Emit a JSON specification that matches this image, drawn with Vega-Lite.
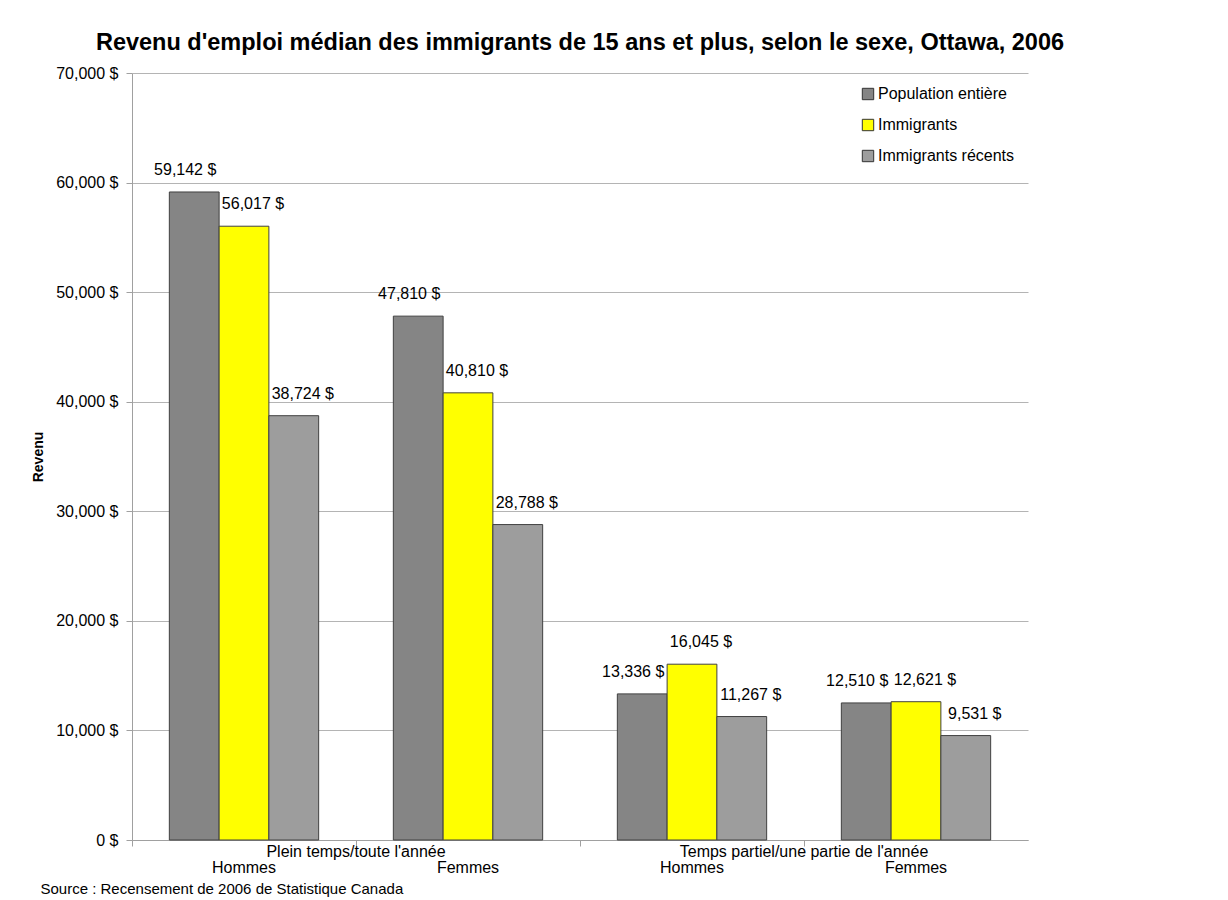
{
  "$schema": "https://vega.github.io/schema/vega-lite/v6.json",
  "autosize": "none",
  "width": 896,
  "height": 767,
  "padding": {"left": 132, "top": 73, "right": 200, "bottom": 60},
  "background": "white",
  "config": {
    "font": "Liberation Sans",
    "view": {"stroke": null},
    "axis": {"labelFont": "Liberation Sans", "titleFont": "Liberation Sans", "labelColor": "#000000", "titleColor": "#000000"}
  },
  "title": {
    "text": "Revenu d'emploi médian des immigrants de 15 ans et plus, selon le sexe, Ottawa, 2006",
    "fontSize": 23.5,
    "fontWeight": "bold",
    "font": "Liberation Sans",
    "color": "#000000",
    "anchor": "middle",
    "offset": 11
  },
  "datasets": {
    "revenus": [
      {"cat": "Plein temps/toute l'année|Hommes", "serie": "Population entière", "revenu": 59142},
      {"cat": "Plein temps/toute l'année|Hommes", "serie": "Immigrants", "revenu": 56017},
      {"cat": "Plein temps/toute l'année|Hommes", "serie": "Immigrants récents", "revenu": 38724},
      {"cat": "Plein temps/toute l'année|Femmes", "serie": "Population entière", "revenu": 47810},
      {"cat": "Plein temps/toute l'année|Femmes", "serie": "Immigrants", "revenu": 40810},
      {"cat": "Plein temps/toute l'année|Femmes", "serie": "Immigrants récents", "revenu": 28788},
      {"cat": "Temps partiel/une partie de l'année|Hommes", "serie": "Population entière", "revenu": 13336},
      {"cat": "Temps partiel/une partie de l'année|Hommes", "serie": "Immigrants", "revenu": 16045},
      {"cat": "Temps partiel/une partie de l'année|Hommes", "serie": "Immigrants récents", "revenu": 11267},
      {"cat": "Temps partiel/une partie de l'année|Femmes", "serie": "Population entière", "revenu": 12510},
      {"cat": "Temps partiel/une partie de l'année|Femmes", "serie": "Immigrants", "revenu": 12621},
      {"cat": "Temps partiel/une partie de l'année|Femmes", "serie": "Immigrants récents", "revenu": 9531}
    ],
    "groupes": [
      {"cat": "Plein temps/toute l'année|Hommes", "groupe": "Plein temps/toute l'année"},
      {"cat": "Temps partiel/une partie de l'année|Hommes", "groupe": "Temps partiel/une partie de l'année"}
    ]
  },
  "layer": [
    {
      "data": {"name": "revenus"},
      "mark": {"type": "bar", "stroke": "#404040", "strokeWidth": 1},
      "encoding": {
        "x": {
          "field": "cat",
          "type": "nominal",
          "scale": {
            "domain": ["Plein temps/toute l'année|Hommes", "Plein temps/toute l'année|Femmes", "Temps partiel/une partie de l'année|Hommes", "Temps partiel/une partie de l'année|Femmes"],
            "paddingInner": 0,
            "paddingOuter": 0
          },
          "axis": {
            "title": "Source : Recensement de 2006 de Statistique Canada",
            "titleFontSize": 15,
            "titleFontWeight": "normal",
            "titleAnchor": "start",
            "titleAlign": "left",
            "titleBaseline": "middle",
            "titleX": -92,
            "titleY": 48,
            "labelExpr": "split(datum.label, '|')[1]",
            "labelAngle": 0,
            "labelFontSize": 16,
            "labelPadding": 13,
            "tickSize": 6,
            "bandPosition": 0,
            "tickColor": "#a0a0a0",
            "domainColor": "#a0a0a0",
            "grid": false
          }
        },
        "xOffset": {
          "field": "serie",
          "type": "nominal",
          "scale": {"domain": ["Population entière", "Immigrants", "Immigrants récents"], "paddingOuter": 0.75, "paddingInner": 0}
        },
        "y": {
          "field": "revenu",
          "type": "quantitative",
          "scale": {"domain": [0, 70000], "nice": false},
          "axis": {
            "title": "Revenu",
            "titleFontSize": 14,
            "titleFontWeight": "bold",
            "titlePadding": 10,
            "values": [0, 10000, 20000, 30000, 40000, 50000, 60000, 70000],
            "labelExpr": "format(datum.value, ',') + ' $'",
            "labelFontSize": 16,
            "labelPadding": 8,
            "tickSize": 6,
            "tickColor": "#a0a0a0",
            "domainColor": "#a0a0a0",
            "gridColor": "#b4b4b4",
            "grid": true
          }
        },
        "color": {
          "field": "serie",
          "type": "nominal",
          "scale": {"domain": ["Population entière", "Immigrants", "Immigrants récents"], "range": ["#858585", "#ffff00", "#9d9d9d"]},
          "legend": {
            "title": null,
            "orient": "top-right",
            "offset": 13,
            "padding": 0,
            "symbolType": "square",
            "symbolSize": 130,
            "symbolStrokeColor": "#333333",
            "symbolStrokeWidth": 1,
            "labelFontSize": 16,
            "labelFont": "Liberation Sans",
            "labelColor": "#000000",
            "labelOffset": 2,
            "rowPadding": 15
          }
        }
      }
    },
    {
      "data": {"name": "revenus"},
      "transform": [
        {"filter": "datum.serie === 'Population entière'"},
        {"calculate": "format(datum.revenu, ',') + ' $'", "as": "etiquette"}
      ],
      "mark": {"type": "text", "baseline": "bottom", "dy": -14, "dx": -9, "fontSize": 16, "font": "Liberation Sans", "color": "#000000"},
      "encoding": {
        "x": {"field": "cat", "type": "nominal"},
        "xOffset": {"field": "serie", "type": "nominal"},
        "y": {"field": "revenu", "type": "quantitative"},
        "text": {"field": "etiquette", "type": "nominal"}
      }
    },
    {
      "data": {"name": "revenus"},
      "transform": [
        {"filter": "datum.serie !== 'Population entière'"},
        {"calculate": "format(datum.revenu, ',') + ' $'", "as": "etiquette"}
      ],
      "mark": {"type": "text", "baseline": "bottom", "dy": -14, "dx": 9, "fontSize": 16, "font": "Liberation Sans", "color": "#000000"},
      "encoding": {
        "x": {"field": "cat", "type": "nominal"},
        "xOffset": {"field": "serie", "type": "nominal"},
        "y": {"field": "revenu", "type": "quantitative"},
        "text": {"field": "etiquette", "type": "nominal"}
      }
    },
    {
      "data": {"name": "groupes"},
      "mark": {"type": "text", "baseline": "middle", "dy": 12, "fontSize": 16, "font": "Liberation Sans", "color": "#000000"},
      "encoding": {
        "x": {"field": "cat", "type": "nominal", "bandPosition": 1},
        "y": {"datum": 0, "type": "quantitative"},
        "text": {"field": "groupe", "type": "nominal"}
      }
    }
  ]
}
